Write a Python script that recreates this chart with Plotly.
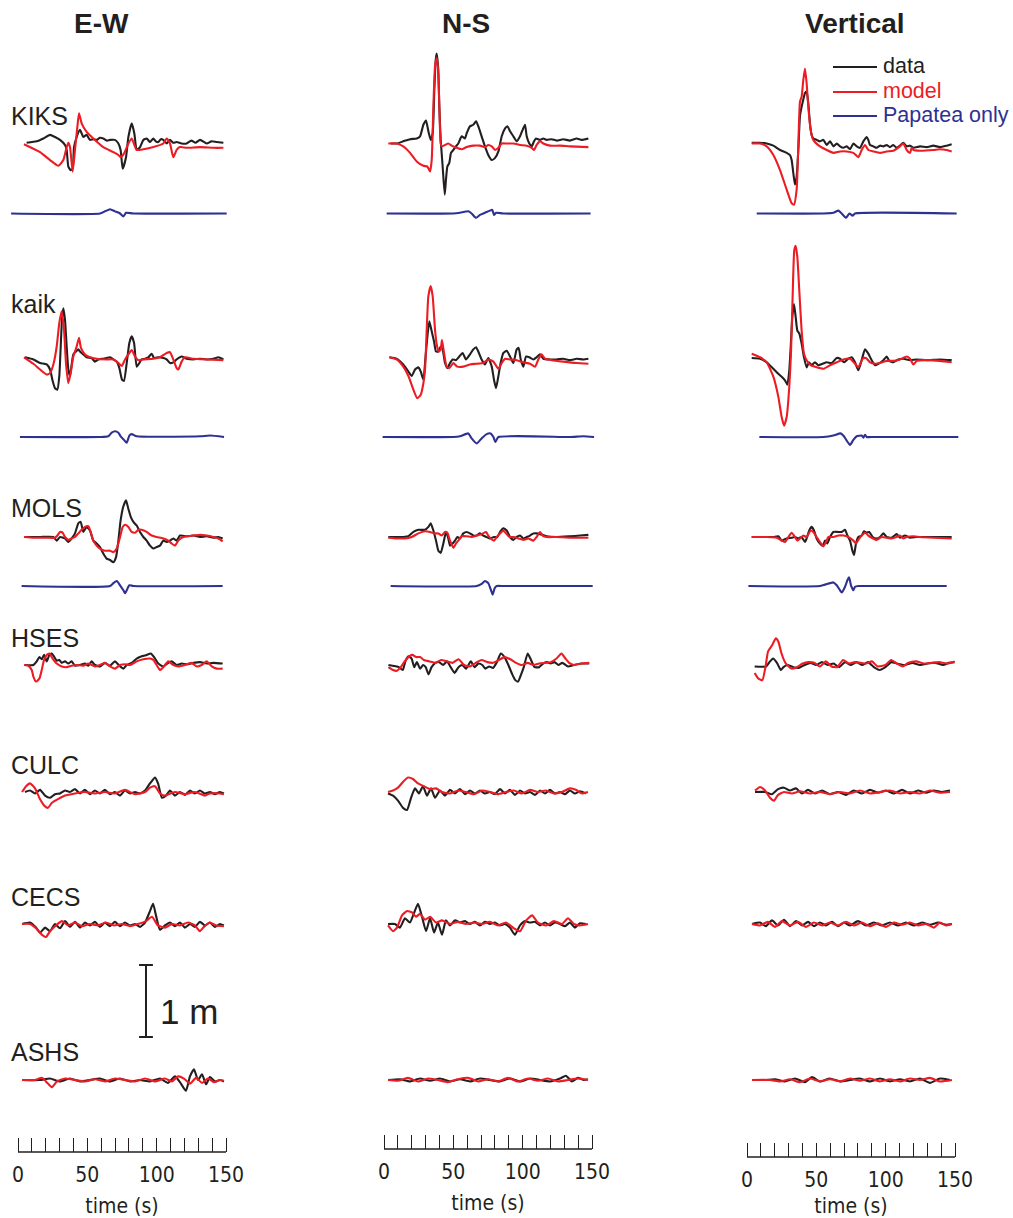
import plotly.graph_objects as go

# ---------------------------------------------------------------------------
# Displacement waveforms, (time [s], displacement [m]) pairs.
# DATA = recorded, MODEL = synthetic, PAPATEA = Papatea-fault-only synthetic
# ---------------------------------------------------------------------------
KIKS_EW_DATA = [(6.2, 0.01), (13.5, 0.03), (18.3, 0.07), (23.1, 0.12), (26.7, 0.09), (30.3, 0.05), (33.9, -0.02), (35.1, -0.09), (36.3, -0.32), (38.0, -0.37), (39.4, -0.35), (40.4, -0.05), (42.3, 0.09), (44.7, 0.19), (47.1, 0.09), (49.5, 0.12), (51.9, 0.05), (54.3, 0.06), (56.7, 0.05), (59.1, 0.08), (61.5, 0.07), (64.0, 0.04), (66.4, 0.05), (69.9, 0.05), (72.4, 0.0), (74.0, -0.09), (75.5, -0.35), (77.9, -0.19), (79.6, 0.09), (82.0, 0.28), (83.9, 0.14), (85.6, -0.09), (88.0, -0.05), (90.4, 0.05), (92.8, 0.07), (95.2, 0.02), (97.6, 0.07), (99.4, 0.03), (101.2, 0.02), (103.0, 0.06), (104.8, 0.05), (107.2, 0.0), (109.6, 0.05), (112.0, 0.01), (114.4, 0.02), (118.0, 0.0), (121.6, 0.0), (125.0, 0.04), (128.0, 0.01), (131.3, 0.05), (136.1, 0.0), (139.5, 0.03), (143.3, 0.02), (148.1, 0.01)]
KIKS_EW_MODEL = [(4.3, -0.01), (15.9, -0.12), (23.1, -0.23), (29.1, -0.31), (32.7, -0.23), (35.1, -0.05), (36.3, 0.01), (37.5, -0.05), (39.4, -0.39), (41.1, -0.09), (42.8, 0.23), (44.0, 0.42), (45.9, 0.28), (49.5, 0.16), (54.3, 0.07), (61.5, -0.05), (68.8, -0.12), (72.4, -0.16), (74.0, -0.19), (76.4, -0.14), (79.6, 0.0), (82.0, 0.07), (85.6, -0.09), (90.4, -0.08), (97.6, -0.05), (104.8, 0.0), (107.2, 0.07), (109.6, 0.0), (112.0, -0.19), (114.4, -0.09), (116.8, -0.05), (121.6, -0.06), (131.3, -0.05), (140.9, -0.06), (148.1, -0.06)]
KIKS_EW_PAPATEA = [(-5.0, 0.0), (59.1, 0.0), (62.7, 0.03), (66.4, 0.06), (69.9, 0.03), (73.6, 0.0), (76.0, -0.04), (77.9, 0.01), (83.2, 0.0), (150.5, 0.0)]

KIKS_NS_DATA = [(5.0, 0.0), (9.1, 0.0), (13.9, 0.03), (18.8, 0.06), (23.6, 0.07), (26.0, 0.10), (28.4, 0.26), (30.3, 0.32), (32.0, 0.17), (33.7, 0.05), (35.1, 0.14), (36.3, 0.75), (37.3, 1.16), (38.0, 1.25), (39.0, 1.07), (39.9, 0.51), (40.9, 0.05), (42.3, -0.32), (43.8, -0.71), (44.7, -0.50), (45.7, -0.32), (47.1, -0.27), (48.3, -0.13), (50.0, -0.09), (51.9, -0.04), (53.6, 0.0), (56.0, 0.10), (58.4, 0.07), (59.6, 0.14), (62.0, 0.24), (64.4, 0.26), (66.4, 0.31), (68.0, 0.24), (70.4, 0.10), (72.8, -0.04), (75.2, -0.16), (77.7, -0.23), (80.1, -0.20), (82.5, -0.11), (84.9, 0.10), (87.3, 0.21), (89.0, 0.24), (90.9, 0.17), (93.3, 0.10), (95.7, 0.03), (98.1, 0.10), (100.0, 0.19), (101.7, 0.26), (102.9, 0.10), (104.8, 0.0), (106.5, -0.04), (108.2, 0.03), (109.6, 0.07), (112.5, 0.05), (114.9, 0.07), (117.3, 0.05), (120.9, 0.06), (124.5, 0.04), (129.3, 0.06), (134.1, 0.04), (138.9, 0.07), (142.6, 0.05), (147.4, 0.07)]
KIKS_NS_MODEL = [(3.1, 0.0), (9.1, 0.0), (13.9, -0.04), (18.8, -0.13), (23.6, -0.25), (28.4, -0.31), (31.3, -0.32), (33.2, -0.39), (34.4, -0.23), (35.6, 0.51), (36.8, 1.07), (38.0, 1.19), (39.2, 0.98), (39.9, 0.51), (40.9, 0.0), (41.8, -0.04), (44.0, -0.02), (46.4, 0.0), (48.8, -0.03), (52.4, -0.06), (56.0, -0.08), (59.6, -0.05), (64.4, -0.03), (69.2, -0.03), (72.8, -0.05), (75.2, -0.02), (77.7, -0.04), (80.1, -0.09), (82.5, -0.06), (84.9, 0.0), (88.5, 0.0), (93.3, 0.0), (98.1, -0.02), (102.9, -0.03), (106.5, -0.06), (108.2, -0.09), (110.1, -0.02), (112.5, 0.03), (114.9, 0.0), (119.7, -0.03), (126.9, -0.03), (134.1, -0.04), (147.4, -0.05)]
KIKS_NS_PAPATEA = [(1.9, 0.0), (50.0, 0.0), (54.8, 0.01), (60.8, 0.03), (63.2, 0.0), (66.4, -0.06), (69.2, -0.02), (72.8, 0.01), (76.4, 0.04), (78.1, 0.05), (79.3, -0.02), (80.8, 0.01), (86.1, 0.0), (149.0, 0.0)]

KIKS_UD_DATA = [(3.4, 0.01), (9.4, 0.01), (14.2, 0.0), (19.0, -0.03), (23.8, -0.09), (28.6, -0.13), (31.0, -0.16), (32.2, -0.23), (33.4, -0.41), (34.6, -0.57), (35.8, -0.46), (37.0, -0.09), (38.2, 0.38), (39.4, 0.51), (40.6, 0.61), (41.8, 0.70), (43.0, 0.72), (44.2, 0.56), (45.4, 0.28), (46.6, 0.12), (47.8, 0.07), (50.2, 0.05), (52.6, 0.03), (55.1, 0.05), (57.5, -0.02), (59.9, 0.03), (62.3, -0.04), (64.7, 0.0), (67.1, -0.04), (69.5, -0.06), (71.9, -0.04), (74.3, -0.08), (76.7, 0.0), (79.1, -0.04), (81.5, -0.06), (83.9, 0.03), (86.3, 0.09), (87.5, 0.05), (88.7, -0.02), (91.1, -0.04), (93.5, -0.06), (95.9, -0.03), (98.3, -0.04), (100.7, -0.02), (103.1, -0.05), (105.5, -0.02), (107.9, -0.06), (110.3, -0.03), (112.7, 0.01), (115.2, -0.04), (117.6, -0.03), (120.0, -0.06), (124.8, -0.04), (129.6, -0.05), (134.4, -0.03), (139.2, -0.05), (144.0, -0.03), (147.6, -0.01)]
KIKS_UD_MODEL = [(3.4, 0.0), (9.4, 0.0), (14.2, -0.04), (19.0, -0.16), (23.8, -0.37), (28.6, -0.64), (32.2, -0.83), (33.9, -0.85), (35.8, -0.64), (37.0, -0.04), (38.2, 0.58), (39.4, 0.65), (40.6, 0.88), (41.8, 1.04), (43.0, 0.84), (44.2, 0.51), (45.9, 0.19), (47.8, 0.05), (52.6, -0.04), (57.5, -0.09), (62.3, -0.13), (67.1, -0.11), (71.9, -0.11), (76.7, -0.13), (80.3, -0.19), (82.7, -0.09), (85.1, -0.02), (87.5, -0.09), (91.1, -0.11), (95.9, -0.13), (100.7, -0.11), (105.5, -0.10), (110.3, -0.04), (112.7, 0.0), (115.2, -0.09), (117.6, -0.13), (118.8, -0.06), (120.0, -0.09), (124.8, -0.10), (134.4, -0.09), (139.2, -0.08), (144.0, -0.09), (147.6, -0.11)]
KIKS_UD_PAPATEA = [(7.0, 0.0), (55.1, 0.0), (62.3, 0.01), (65.9, 0.04), (68.3, 0.0), (71.4, -0.06), (73.8, 0.0), (76.2, -0.03), (77.9, 0.0), (151.2, 0.0)]

KAIK_EW_DATA = [(5.0, 0.01), (11.1, -0.02), (15.9, -0.07), (20.7, -0.09), (23.1, -0.16), (25.0, -0.32), (26.7, -0.42), (28.4, -0.44), (29.8, -0.25), (30.8, 0.16), (31.7, 0.53), (32.7, 0.69), (33.9, 0.53), (35.1, 0.16), (36.3, -0.16), (37.5, -0.25), (38.7, -0.09), (39.9, 0.05), (41.8, 0.09), (43.5, 0.12), (44.7, 0.09), (47.1, 0.05), (49.5, 0.01), (53.1, 0.0), (55.5, -0.05), (57.9, -0.02), (61.5, -0.01), (63.9, 0.0), (66.4, 0.01), (68.8, -0.02), (71.2, -0.05), (73.1, -0.14), (75.0, -0.30), (76.4, -0.32), (78.4, -0.07), (80.3, 0.21), (82.0, 0.30), (83.7, 0.21), (85.6, -0.12), (87.5, -0.07), (89.2, -0.02), (91.6, -0.01), (94.0, 0.01), (96.4, 0.06), (98.1, 0.0), (101.2, 0.01), (104.8, 0.0), (107.2, -0.02), (109.6, -0.07), (112.0, -0.06), (114.4, -0.02), (118.0, 0.02), (121.6, -0.01), (126.5, -0.02), (131.3, -0.01), (136.1, -0.02), (140.9, -0.01), (144.5, 0.01), (148.1, -0.02)]
KAIK_EW_MODEL = [(4.3, 0.01), (11.1, -0.08), (15.9, -0.16), (20.7, -0.23), (23.1, -0.21), (25.5, -0.09), (27.9, 0.16), (29.8, 0.49), (31.5, 0.65), (33.2, 0.39), (34.6, -0.07), (36.3, -0.35), (38.0, -0.21), (39.9, 0.02), (42.3, 0.16), (44.0, 0.28), (45.4, 0.14), (48.3, 0.05), (51.9, 0.01), (56.7, -0.01), (63.9, -0.02), (68.8, -0.02), (72.4, -0.07), (74.8, -0.11), (77.2, -0.02), (79.6, 0.05), (82.0, 0.11), (84.4, 0.02), (86.8, -0.03), (90.4, -0.02), (97.6, -0.01), (102.4, 0.01), (107.2, 0.07), (109.6, 0.08), (112.0, -0.02), (114.4, -0.14), (115.6, -0.16), (118.0, -0.05), (120.4, 0.01), (126.5, -0.01), (136.1, -0.02), (148.1, -0.03)]
KAIK_EW_PAPATEA = [(1.4, 0.0), (59.1, 0.0), (65.1, 0.01), (67.6, 0.06), (69.9, 0.08), (72.4, 0.06), (74.0, 0.01), (76.4, -0.04), (78.4, -0.08), (80.3, 0.02), (82.0, 0.04), (85.6, 0.01), (131.3, 0.01), (138.5, 0.02), (148.6, 0.0)]

KAIK_NS_DATA = [(3.9, 0.01), (9.1, -0.01), (13.9, -0.09), (17.6, -0.19), (20.0, -0.25), (22.4, -0.16), (24.8, -0.13), (26.5, -0.19), (28.4, -0.30), (29.8, -0.02), (31.3, 0.30), (32.7, 0.51), (34.4, 0.37), (36.1, 0.23), (37.5, 0.09), (39.2, 0.09), (40.9, 0.16), (42.3, 0.12), (44.0, -0.07), (45.7, -0.14), (47.6, -0.07), (49.5, -0.02), (51.9, -0.03), (54.3, 0.02), (56.7, 0.07), (59.1, -0.02), (62.0, 0.05), (64.4, 0.12), (66.4, 0.15), (68.0, 0.09), (70.4, -0.02), (72.8, -0.09), (75.2, 0.0), (77.7, -0.12), (79.3, -0.30), (80.8, -0.42), (82.5, -0.25), (84.1, -0.07), (86.1, 0.07), (88.5, 0.10), (90.9, 0.02), (93.3, -0.07), (95.7, 0.12), (97.1, 0.14), (98.6, -0.02), (100.5, -0.12), (102.4, 0.02), (104.8, 0.01), (107.7, -0.02), (110.1, 0.01), (112.5, 0.05), (114.9, -0.01), (119.7, -0.02), (124.5, -0.02), (129.3, -0.01), (134.1, -0.03), (138.9, -0.01), (143.8, -0.02), (147.4, -0.01)]
KAIK_NS_MODEL = [(3.9, 0.01), (9.1, -0.02), (13.9, -0.12), (17.6, -0.25), (21.2, -0.44), (24.0, -0.56), (26.5, -0.51), (28.4, -0.35), (29.6, -0.16), (30.8, 0.39), (32.0, 0.86), (33.7, 1.00), (35.1, 0.86), (36.8, 0.39), (38.0, 0.19), (39.4, 0.09), (40.9, 0.12), (41.8, 0.25), (43.3, 0.07), (45.2, -0.12), (47.1, -0.14), (50.0, -0.07), (52.9, -0.12), (57.2, -0.12), (62.0, -0.09), (66.8, -0.08), (71.6, -0.07), (75.2, -0.02), (78.9, -0.05), (82.5, -0.15), (84.9, -0.07), (87.3, -0.01), (90.9, -0.02), (95.7, -0.03), (100.5, -0.06), (105.3, -0.08), (108.9, -0.12), (111.3, -0.02), (113.7, 0.05), (116.1, -0.01), (120.9, -0.03), (129.3, -0.05), (138.9, -0.07), (147.4, -0.08)]
KAIK_NS_PAPATEA = [(-1.0, 0.0), (50.0, 0.0), (54.8, 0.01), (60.8, 0.05), (63.2, -0.02), (66.8, -0.09), (70.4, -0.02), (74.0, 0.04), (76.9, 0.05), (78.9, 0.0), (80.3, -0.07), (82.5, 0.0), (134.1, 0.0), (143.8, 0.01), (151.5, 0.0)]

KAIK_UD_DATA = [(3.4, 0.0), (9.4, -0.01), (14.2, -0.06), (19.0, -0.15), (22.6, -0.22), (25.0, -0.26), (27.4, -0.31), (29.1, -0.37), (30.5, -0.17), (31.5, 0.15), (32.7, 0.57), (33.9, 0.75), (35.1, 0.57), (36.3, 0.38), (37.7, 0.34), (39.4, 0.20), (41.1, 0.01), (43.0, -0.13), (44.7, -0.06), (46.6, -0.10), (49.0, -0.06), (51.4, -0.10), (54.6, -0.08), (57.5, -0.06), (61.1, -0.07), (64.7, 0.0), (67.1, -0.01), (70.0, -0.06), (73.1, -0.01), (75.5, 0.01), (77.9, -0.06), (80.3, -0.17), (82.7, -0.03), (85.1, 0.12), (87.5, 0.06), (89.9, -0.03), (92.3, -0.10), (94.7, -0.08), (98.3, -0.03), (100.7, 0.02), (102.6, -0.04), (105.5, -0.06), (109.1, -0.02), (112.7, -0.01), (117.6, -0.03), (122.4, -0.02), (129.6, -0.03), (139.2, -0.02), (147.6, -0.03)]
KAIK_UD_MODEL = [(3.4, 0.06), (9.4, 0.01), (14.2, -0.06), (19.0, -0.26), (22.6, -0.54), (25.0, -0.82), (26.7, -0.94), (28.6, -0.82), (30.5, -0.40), (31.7, 0.06), (32.9, 0.85), (34.1, 1.50), (35.1, 1.56), (36.3, 1.40), (37.7, 0.94), (39.4, 0.38), (41.1, 0.06), (43.0, -0.03), (45.9, -0.10), (50.2, -0.13), (55.1, -0.15), (59.9, -0.10), (64.7, -0.06), (69.5, -0.02), (74.3, -0.01), (77.9, -0.08), (80.3, -0.13), (83.4, -0.01), (85.8, 0.0), (88.7, -0.06), (92.3, -0.08), (95.9, -0.07), (100.7, -0.04), (105.5, -0.04), (110.3, -0.02), (115.2, 0.02), (117.6, -0.01), (120.0, -0.09), (122.4, -0.04), (129.6, -0.03), (139.2, -0.04), (147.6, -0.06)]
KAIK_UD_PAPATEA = [(8.9, 0.0), (55.1, 0.0), (62.3, 0.02), (67.5, 0.05), (69.9, 0.01), (71.9, -0.05), (74.3, -0.11), (76.7, -0.04), (79.1, 0.01), (82.7, 0.02), (83.9, -0.01), (85.1, 0.03), (86.3, 0.0), (91.1, 0.0), (152.4, 0.0)]

MOLS_EW_DATA = [(5.0, 0.0), (15.9, 0.0), (25.5, 0.0), (27.9, -0.05), (30.3, 0.0), (33.9, -0.02), (36.3, -0.07), (38.7, -0.02), (41.1, 0.05), (43.5, 0.19), (45.2, 0.21), (47.1, 0.07), (49.5, 0.14), (51.9, 0.09), (54.3, -0.05), (56.7, -0.09), (59.1, -0.14), (61.5, -0.23), (63.9, -0.30), (66.4, -0.32), (68.8, -0.35), (70.7, -0.28), (72.4, -0.05), (74.0, 0.23), (75.9, 0.42), (77.9, 0.51), (79.6, 0.39), (81.3, 0.28), (83.2, 0.21), (85.6, 0.16), (88.0, 0.07), (90.4, 0.0), (92.8, -0.05), (95.2, -0.12), (97.6, -0.16), (100.0, -0.14), (102.4, -0.12), (104.8, -0.05), (107.2, -0.07), (109.6, -0.05), (112.0, -0.02), (114.4, -0.05), (116.8, 0.02), (121.6, 0.01), (126.5, 0.02), (131.3, 0.0), (136.1, 0.01), (140.9, -0.01), (144.5, 0.0), (147.6, -0.02)]
MOLS_EW_MODEL = [(4.3, 0.0), (11.1, -0.01), (20.7, -0.01), (26.7, -0.01), (28.4, 0.02), (30.3, 0.07), (32.2, 0.06), (33.9, 0.0), (36.3, -0.04), (38.7, -0.02), (41.1, 0.0), (43.5, 0.05), (45.9, 0.10), (48.3, 0.14), (50.7, 0.15), (52.4, 0.07), (54.3, -0.05), (56.7, -0.12), (59.1, -0.16), (62.7, -0.19), (66.4, -0.19), (68.8, -0.21), (71.2, -0.16), (73.6, 0.0), (75.5, 0.14), (77.2, 0.17), (79.6, 0.14), (82.0, 0.07), (84.4, 0.06), (86.8, 0.10), (89.2, 0.10), (92.8, 0.07), (96.4, 0.02), (100.0, 0.0), (104.8, -0.02), (108.4, -0.05), (110.8, -0.09), (113.2, -0.12), (115.6, -0.05), (118.0, -0.01), (121.6, 0.01), (126.5, 0.02), (131.3, 0.03), (136.1, 0.02), (140.9, 0.0), (144.5, -0.02), (147.6, -0.06)]
MOLS_EW_PAPATEA = [(2.6, 0.0), (66.4, 0.0), (68.8, 0.04), (71.2, 0.07), (73.6, 0.01), (76.0, -0.06), (77.2, -0.10), (78.4, -0.06), (80.3, 0.01), (83.2, 0.0), (147.6, 0.0)]

MOLS_NS_DATA = [(3.1, 0.0), (13.9, 0.0), (17.6, 0.01), (21.2, 0.07), (24.8, 0.10), (29.6, 0.10), (32.0, 0.14), (33.7, 0.19), (35.6, 0.09), (37.5, -0.05), (39.2, -0.19), (40.9, -0.22), (42.8, -0.09), (44.7, 0.07), (46.4, -0.02), (47.6, -0.12), (49.5, -0.09), (51.2, -0.05), (52.9, 0.0), (54.8, -0.02), (57.2, 0.05), (59.6, 0.07), (62.0, 0.05), (64.4, 0.02), (66.8, 0.02), (69.2, 0.05), (71.6, 0.02), (74.0, 0.0), (76.4, -0.02), (79.3, 0.0), (81.7, 0.0), (83.7, 0.07), (86.1, 0.12), (88.5, 0.09), (90.9, 0.0), (93.3, -0.04), (95.7, 0.0), (98.1, 0.02), (100.5, -0.02), (102.9, 0.0), (105.3, 0.02), (107.7, 0.05), (110.1, 0.05), (112.5, 0.04), (117.3, 0.01), (124.5, 0.0), (134.1, 0.01), (141.4, 0.02), (147.4, 0.03)]
MOLS_NS_MODEL = [(3.1, -0.01), (9.1, -0.02), (15.1, -0.02), (20.0, 0.0), (24.8, 0.05), (29.6, 0.08), (33.2, 0.07), (36.1, 0.05), (39.2, 0.05), (41.6, 0.02), (44.0, 0.07), (45.7, 0.06), (47.6, -0.05), (50.0, -0.15), (51.9, -0.09), (53.6, -0.05), (56.0, 0.01), (59.6, 0.01), (63.2, 0.0), (66.8, 0.02), (70.4, 0.04), (73.6, 0.07), (75.2, 0.02), (76.9, -0.02), (79.3, -0.05), (81.3, 0.0), (83.7, 0.05), (86.1, 0.09), (88.0, 0.05), (90.4, 0.0), (93.3, 0.0), (96.9, -0.02), (100.5, -0.04), (104.1, -0.02), (107.7, -0.05), (110.1, 0.0), (112.5, 0.07), (114.4, 0.02), (117.3, 0.0), (124.5, 0.0), (134.1, -0.01), (147.4, -0.01)]
MOLS_NS_PAPATEA = [(4.8, 0.0), (66.8, 0.0), (70.4, 0.03), (72.8, 0.07), (75.2, 0.04), (77.2, -0.06), (78.4, -0.12), (79.8, -0.03), (81.3, 0.0), (86.1, 0.0), (150.5, 0.0)]

MOLS_UD_DATA = [(3.4, 0.0), (14.2, 0.0), (19.0, 0.0), (22.6, 0.01), (25.0, -0.05), (28.6, -0.02), (32.2, -0.01), (34.6, 0.0), (37.0, -0.02), (39.4, 0.0), (41.8, -0.07), (43.0, -0.02), (44.9, 0.09), (46.6, 0.14), (48.3, 0.09), (50.2, -0.02), (52.6, -0.09), (54.6, -0.12), (56.3, -0.05), (57.9, -0.09), (59.9, 0.0), (62.3, 0.07), (65.9, 0.07), (68.3, 0.07), (70.7, 0.10), (72.4, 0.02), (74.3, -0.05), (76.0, -0.19), (77.2, -0.25), (78.6, -0.09), (80.3, 0.0), (82.7, 0.02), (84.4, 0.08), (86.3, 0.06), (88.2, 0.07), (90.6, 0.0), (93.5, -0.02), (95.9, 0.0), (98.3, 0.05), (100.7, 0.0), (104.3, -0.01), (107.9, 0.04), (110.3, -0.01), (113.9, 0.02), (117.6, -0.01), (122.4, 0.0), (129.6, 0.0), (139.2, 0.0), (147.6, 0.0)]
MOLS_UD_MODEL = [(3.4, 0.0), (14.2, 0.0), (21.4, -0.01), (25.0, -0.05), (27.4, -0.07), (29.8, 0.0), (32.2, 0.06), (33.9, 0.02), (36.3, -0.05), (38.2, -0.02), (40.6, 0.02), (43.0, 0.0), (45.9, 0.09), (47.8, 0.07), (50.2, 0.0), (52.6, -0.07), (55.1, -0.13), (57.0, -0.07), (58.7, 0.0), (62.3, 0.0), (65.9, 0.02), (69.5, 0.02), (73.1, 0.0), (76.7, -0.05), (78.6, -0.09), (80.3, -0.04), (82.7, 0.02), (85.1, 0.06), (87.5, 0.02), (89.9, -0.01), (93.5, -0.04), (97.1, 0.0), (100.7, -0.01), (104.3, -0.02), (107.9, 0.0), (110.3, 0.02), (112.7, -0.02), (115.2, 0.0), (120.0, 0.01), (124.8, 0.0), (134.4, -0.01), (147.6, -0.02)]
MOLS_UD_PAPATEA = [(1.0, 0.0), (52.6, 0.0), (59.9, 0.04), (62.3, 0.05), (64.7, 0.01), (67.1, -0.06), (68.3, -0.09), (70.7, -0.01), (72.4, 0.08), (73.6, 0.12), (75.0, 0.01), (76.7, -0.06), (77.9, -0.01), (80.3, 0.0), (91.1, 0.0), (144.0, 0.0)]

HSES_EW_DATA = [(5.0, 0.0), (11.1, 0.0), (13.5, 0.05), (15.4, 0.11), (17.1, 0.08), (18.8, 0.14), (20.7, 0.05), (22.6, 0.14), (24.3, 0.16), (25.9, 0.12), (27.9, 0.06), (29.8, 0.07), (31.5, 0.03), (33.9, 0.05), (36.3, 0.02), (38.7, 0.05), (41.1, -0.01), (44.7, 0.0), (48.3, 0.02), (50.7, -0.01), (53.1, 0.05), (55.5, 0.0), (59.1, -0.02), (62.7, 0.03), (66.4, -0.01), (69.9, 0.05), (73.6, -0.02), (76.0, -0.05), (78.4, 0.0), (82.0, 0.03), (85.6, 0.09), (89.2, 0.12), (92.8, 0.14), (95.7, 0.16), (98.1, 0.11), (101.2, 0.02), (104.8, -0.02), (108.4, 0.03), (110.8, 0.05), (114.4, 0.0), (118.0, 0.02), (121.6, 0.01), (126.5, 0.03), (131.3, 0.04), (136.1, 0.02), (140.9, 0.03), (147.6, 0.02)]
HSES_EW_MODEL = [(4.3, 0.0), (7.5, -0.01), (9.9, -0.07), (11.1, -0.16), (13.0, -0.23), (15.4, -0.19), (17.1, -0.07), (18.8, 0.07), (20.7, 0.14), (22.6, 0.16), (25.0, 0.09), (27.9, 0.02), (31.5, -0.02), (35.1, -0.03), (38.7, -0.01), (42.3, 0.0), (47.1, -0.01), (50.7, 0.02), (55.5, -0.02), (59.1, 0.0), (62.7, 0.03), (66.4, -0.02), (69.9, -0.05), (73.6, 0.0), (77.2, 0.01), (80.8, 0.0), (85.6, 0.05), (90.4, 0.08), (95.2, 0.09), (97.6, 0.07), (100.0, 0.0), (102.4, -0.07), (104.8, -0.03), (108.4, 0.05), (112.0, 0.0), (115.6, -0.02), (120.4, 0.0), (125.2, 0.03), (128.9, -0.02), (132.5, 0.0), (136.1, 0.05), (139.7, -0.02), (143.3, -0.05), (147.6, -0.05)]

HSES_NS_DATA = [(3.2, 0.0), (10.7, -0.03), (13.5, -0.07), (15.4, 0.05), (17.6, 0.12), (19.9, 0.09), (21.8, -0.03), (23.7, 0.04), (26.0, -0.05), (28.2, 0.0), (30.1, -0.03), (32.1, -0.13), (34.3, -0.03), (37.1, 0.03), (39.8, 0.04), (42.6, 0.0), (45.4, 0.05), (48.1, -0.03), (50.9, -0.11), (53.7, -0.03), (56.5, 0.0), (59.2, -0.05), (62.6, 0.05), (65.3, -0.03), (68.1, 0.02), (70.9, 0.0), (73.1, -0.05), (75.9, -0.02), (78.6, -0.04), (81.4, 0.04), (84.2, 0.16), (86.9, 0.11), (89.7, 0.0), (92.5, -0.13), (94.7, -0.21), (96.7, -0.23), (98.9, -0.13), (100.8, -0.03), (103.6, 0.16), (105.8, 0.08), (108.6, -0.03), (111.9, -0.03), (114.7, 0.02), (117.5, 0.04), (120.2, 0.02), (123.0, 0.04), (125.8, 0.0), (128.6, 0.03), (132.7, -0.02), (136.9, 0.0), (142.4, 0.02), (148.0, 0.02)]
HSES_NS_MODEL = [(3.2, -0.03), (6.5, -0.07), (9.3, -0.08), (12.1, -0.03), (14.9, 0.05), (17.6, 0.11), (20.4, 0.14), (23.2, 0.11), (26.0, 0.11), (28.7, 0.07), (32.9, 0.05), (37.1, 0.03), (41.2, 0.07), (45.4, 0.05), (49.5, 0.03), (53.7, 0.08), (57.8, 0.0), (62.0, -0.02), (66.2, 0.03), (70.3, 0.07), (74.5, 0.04), (78.6, 0.03), (82.8, 0.07), (87.0, 0.11), (91.1, 0.08), (95.3, 0.03), (99.4, 0.0), (103.6, 0.03), (107.8, 0.0), (111.9, 0.02), (116.1, 0.03), (120.2, 0.04), (124.4, 0.09), (128.0, 0.16), (130.8, 0.09), (133.5, 0.03), (136.9, 0.0), (142.4, 0.02), (148.0, 0.03)]

HSES_UD_DATA = [(5.5, -0.02), (13.8, -0.02), (16.6, 0.05), (18.8, 0.09), (21.6, 0.03), (24.4, -0.07), (26.3, -0.03), (29.1, 0.0), (33.3, -0.03), (37.4, -0.04), (41.6, 0.0), (45.7, 0.03), (49.9, 0.0), (54.0, 0.04), (58.2, 0.0), (62.4, 0.02), (66.5, -0.03), (70.7, 0.04), (74.8, 0.0), (79.0, 0.04), (83.1, 0.0), (87.3, 0.04), (91.5, -0.03), (95.6, -0.07), (99.8, -0.03), (104.0, 0.04), (108.1, 0.02), (113.6, 0.0), (119.2, 0.03), (124.7, 0.0), (130.3, 0.02), (135.8, 0.03), (141.4, 0.0), (145.6, 0.03), (149.7, 0.04)]
HSES_UD_MODEL = [(5.5, -0.11), (8.3, -0.19), (11.1, -0.21), (13.3, -0.03), (15.2, 0.19), (18.0, 0.27), (20.8, 0.37), (22.7, 0.32), (24.9, 0.16), (27.7, 0.03), (31.9, -0.05), (36.0, -0.03), (40.2, 0.02), (44.3, 0.04), (48.5, 0.03), (52.6, -0.02), (56.8, 0.05), (61.0, -0.02), (65.1, -0.03), (69.3, 0.07), (73.4, 0.02), (77.6, 0.04), (81.8, 0.03), (85.9, 0.02), (90.1, 0.05), (94.2, -0.02), (99.8, 0.0), (104.0, 0.07), (108.1, 0.02), (112.3, -0.02), (116.4, 0.03), (122.0, 0.05), (127.5, 0.02), (133.1, 0.03), (138.6, 0.04), (144.2, 0.02), (149.7, 0.05)]

CULC_EW_DATA = [(5.0, 0.0), (8.7, 0.02), (12.3, -0.02), (15.9, 0.03), (19.5, -0.05), (23.1, -0.08), (26.7, -0.03), (30.3, -0.02), (33.9, 0.02), (37.5, 0.0), (41.1, 0.04), (44.7, -0.02), (48.3, 0.03), (51.9, -0.03), (55.5, 0.02), (59.1, -0.02), (62.7, 0.03), (66.3, -0.03), (69.9, 0.0), (73.5, -0.05), (77.1, 0.02), (80.8, -0.02), (84.4, 0.0), (88.0, -0.02), (91.6, 0.02), (95.2, 0.12), (98.8, 0.2), (101.0, 0.12), (103.8, -0.08), (106.7, -0.05), (109.6, 0.02), (113.2, -0.05), (116.8, 0.0), (120.4, -0.04), (124.0, 0.02), (127.6, -0.02), (131.2, 0.02), (134.8, -0.02), (138.4, 0.0), (142.0, -0.03), (145.6, 0.0), (148.5, -0.02)]
CULC_EW_MODEL = [(2.9, 0.0), (5.8, 0.08), (8.7, 0.12), (12.3, 0.05), (15.9, -0.1), (19.5, -0.2), (21.6, -0.22), (24.5, -0.15), (28.8, -0.1), (33.9, -0.05), (41.1, -0.02), (48.3, 0.0), (55.5, -0.02), (62.7, 0.0), (69.9, -0.02), (77.1, 0.03), (84.4, -0.03), (91.6, 0.0), (95.2, 0.06), (98.8, 0.08), (102.4, -0.02), (106.0, -0.05), (113.2, 0.0), (120.4, -0.03), (127.6, 0.0), (134.8, -0.05), (138.4, -0.02), (145.6, -0.02), (148.5, -0.03)]
CULC_NS_DATA = [(2.9, -0.02), (6.5, -0.05), (10.1, -0.12), (13.7, -0.22), (16.6, -0.25), (19.5, -0.08), (22.4, 0.05), (25.2, -0.02), (28.1, 0.08), (31.0, -0.05), (33.9, 0.05), (36.8, -0.08), (40.4, 0.02), (44.0, -0.05), (47.6, 0.03), (51.2, -0.02), (54.8, 0.04), (58.4, -0.03), (62.0, 0.02), (65.6, -0.02), (69.2, 0.02), (72.8, -0.02), (76.4, 0.0), (80.0, -0.03), (83.6, 0.04), (87.2, -0.02), (90.8, 0.03), (94.4, -0.04), (98.1, 0.02), (101.7, -0.02), (105.3, 0.0), (108.9, -0.04), (112.5, 0.02), (116.1, -0.02), (119.7, 0.03), (123.3, -0.02), (126.9, 0.0), (130.5, -0.03), (134.1, 0.02), (137.7, -0.02), (141.3, 0.01), (145.6, -0.02)]
CULC_NS_MODEL = [(2.9, 0.0), (6.5, 0.02), (10.1, 0.06), (13.7, 0.14), (17.3, 0.2), (20.9, 0.18), (24.5, 0.12), (28.8, 0.08), (33.2, 0.04), (37.5, 0.05), (41.8, 0.0), (47.6, -0.02), (53.4, 0.02), (59.1, 0.0), (64.9, -0.03), (70.7, 0.02), (76.4, 0.0), (82.2, -0.03), (88.0, 0.0), (93.7, 0.02), (99.5, -0.02), (105.3, 0.03), (111.0, 0.0), (116.8, 0.02), (122.6, -0.02), (128.3, 0.0), (134.1, 0.05), (138.4, 0.03), (142.8, -0.02), (147.1, 0.0)]
CULC_UD_DATA = [(5.8, 0.0), (13.0, 0.0), (18.0, -0.03), (22.4, 0.04), (26.7, 0.06), (31.0, 0.02), (35.3, 0.05), (39.7, -0.02), (44.0, 0.03), (49.0, -0.02), (54.1, 0.02), (59.8, -0.03), (65.6, 0.0), (71.4, -0.04), (77.1, 0.02), (82.9, -0.02), (88.7, 0.03), (94.4, -0.01), (100.2, 0.02), (106.0, -0.02), (111.8, 0.03), (117.5, -0.02), (123.3, 0.02), (129.1, -0.01), (134.8, 0.02), (140.6, 0.0), (146.4, 0.02)]
CULC_UD_MODEL = [(5.8, 0.02), (9.4, 0.07), (13.0, 0.02), (16.6, -0.08), (19.5, -0.12), (22.4, -0.04), (26.7, 0.0), (32.4, -0.02), (38.2, 0.01), (45.4, -0.02), (52.6, 0.0), (59.8, -0.03), (67.1, 0.0), (74.3, -0.02), (81.5, 0.02), (88.7, -0.02), (95.9, 0.0), (103.1, 0.02), (110.3, -0.02), (117.5, 0.0), (124.7, -0.02), (131.9, 0.02), (139.1, -0.01), (146.4, 0.0)]

CECS_EW_DATA = [(2.9, 0.0), (8.7, 0.02), (13.0, -0.05), (15.9, -0.12), (19.5, -0.05), (23.1, -0.1), (26.7, 0.0), (30.3, -0.06), (33.9, 0.04), (37.5, -0.04), (41.1, 0.03), (44.7, -0.05), (48.3, 0.02), (51.9, -0.02), (55.5, 0.03), (59.1, -0.04), (62.7, 0.02), (66.3, -0.03), (69.9, 0.03), (73.5, -0.03), (77.1, 0.02), (80.8, -0.02), (84.4, 0.0), (88.0, -0.04), (91.6, 0.02), (95.2, 0.18), (97.4, 0.28), (99.5, 0.12), (102.4, -0.08), (106.0, -0.02), (109.6, 0.02), (113.2, -0.03), (116.8, 0.02), (120.4, -0.05), (124.0, 0.0), (127.6, -0.04), (131.2, 0.03), (134.8, -0.02), (138.4, 0.02), (142.0, -0.04), (145.6, 0.0), (148.5, -0.02)]
CECS_EW_MODEL = [(2.9, 0.0), (8.7, 0.0), (13.0, -0.06), (17.3, -0.15), (20.2, -0.18), (23.1, -0.1), (27.4, -0.02), (31.7, 0.04), (36.1, -0.02), (41.1, 0.02), (46.1, -0.03), (51.9, 0.0), (57.7, -0.02), (63.4, 0.02), (69.2, -0.02), (75.0, 0.0), (80.8, -0.03), (86.5, 0.0), (92.3, 0.04), (96.6, 0.1), (100.9, -0.02), (106.0, -0.05), (111.0, 0.0), (116.8, -0.02), (122.6, 0.02), (127.6, -0.02), (131.2, -0.1), (134.1, -0.04), (138.4, 0.02), (142.8, -0.02), (148.5, -0.03)]
CECS_NS_DATA = [(2.9, 0.0), (7.9, 0.0), (11.5, -0.05), (15.1, 0.08), (18.7, 0.02), (21.6, 0.15), (24.5, 0.28), (27.4, 0.1), (30.3, -0.1), (33.2, 0.08), (36.1, -0.12), (38.9, 0.02), (41.8, -0.15), (44.7, 0.05), (47.6, -0.02), (51.2, 0.05), (54.8, 0.02), (58.4, 0.04), (62.0, 0.0), (65.6, 0.03), (69.2, -0.02), (72.8, 0.03), (76.4, 0.0), (80.0, 0.02), (83.6, -0.02), (87.2, 0.0), (90.8, -0.05), (94.4, -0.15), (98.1, -0.02), (101.7, 0.04), (105.3, 0.02), (108.9, 0.03), (112.5, -0.02), (116.1, 0.02), (119.7, -0.02), (123.3, 0.02), (126.9, 0.0), (130.5, -0.03), (134.1, 0.02), (137.7, -0.05), (141.3, 0.01), (145.6, 0.0)]
CECS_NS_MODEL = [(2.9, -0.02), (6.5, -0.1), (9.4, -0.05), (13.0, 0.12), (16.6, 0.18), (20.2, 0.16), (23.1, 0.1), (25.9, 0.14), (29.6, 0.06), (33.2, 0.1), (37.5, 0.02), (41.8, 0.05), (47.6, 0.0), (53.4, 0.03), (59.1, 0.0), (64.9, 0.02), (70.7, 0.0), (76.4, 0.03), (82.2, -0.02), (88.0, 0.02), (93.7, -0.06), (98.1, -0.1), (102.5, 0.05), (106.8, 0.12), (111.0, 0.02), (116.8, -0.02), (122.6, 0.04), (128.3, 0.0), (132.7, 0.08), (137.0, 0.0), (141.3, -0.02), (147.1, 0.0)]
CECS_UD_DATA = [(3.6, 0.0), (9.4, 0.02), (13.7, -0.03), (18.0, 0.05), (22.4, -0.02), (26.7, 0.06), (31.0, -0.03), (35.3, 0.04), (39.7, -0.02), (44.0, 0.03), (48.3, -0.03), (52.6, 0.02), (57.0, -0.02), (61.3, 0.03), (65.6, -0.03), (69.9, 0.02), (74.3, -0.02), (80.0, 0.04), (85.8, -0.02), (91.6, 0.02), (97.3, -0.02), (103.1, 0.02), (108.9, -0.02), (114.6, 0.02), (120.4, -0.02), (126.2, 0.02), (132.0, -0.01), (137.7, 0.02), (143.5, -0.01), (147.8, 0.0)]
CECS_UD_MODEL = [(3.6, 0.0), (9.4, -0.02), (15.1, 0.03), (20.2, -0.04), (25.2, 0.04), (31.0, -0.02), (36.8, 0.03), (42.5, -0.04), (48.3, 0.02), (54.1, -0.02), (59.8, 0.02), (65.6, -0.02), (71.4, 0.03), (77.1, -0.02), (82.9, 0.02), (88.7, -0.03), (94.4, 0.01), (100.2, -0.04), (106.0, 0.02), (111.8, -0.01), (117.5, 0.02), (123.3, -0.02), (129.1, 0.0), (134.8, -0.05), (139.1, 0.02), (143.5, -0.02), (147.8, 0.0)]

ASHS_EW_DATA = [(2.9, 0.0), (15.9, 0.0), (23.1, 0.02), (30.3, -0.02), (37.5, 0.02), (44.7, -0.02), (51.9, 0.0), (59.1, 0.02), (66.3, -0.02), (73.5, 0.02), (80.8, -0.02), (88.0, 0.0), (95.2, -0.02), (102.4, 0.02), (108.1, -0.04), (113.2, 0.05), (116.8, -0.03), (121.1, -0.15), (124.0, 0.05), (126.9, 0.15), (129.8, 0.0), (132.7, 0.08), (135.6, -0.06), (138.4, 0.04), (142.0, -0.02), (145.6, 0.0), (148.5, -0.02)]
ASHS_EW_MODEL = [(2.9, 0.0), (12.3, 0.0), (17.3, 0.03), (21.6, -0.05), (24.5, -0.1), (28.1, -0.02), (33.9, 0.02), (41.1, 0.0), (48.3, -0.02), (55.5, 0.01), (62.7, -0.02), (69.9, 0.02), (77.1, 0.0), (84.4, -0.02), (91.6, 0.02), (98.8, -0.02), (106.0, 0.02), (111.0, -0.02), (115.4, 0.05), (119.7, 0.02), (124.0, -0.05), (128.4, 0.03), (132.7, -0.04), (137.0, 0.02), (141.3, -0.03), (145.6, 0.0), (148.5, -0.01)]
ASHS_NS_DATA = [(2.9, 0.0), (11.5, 0.01), (18.7, -0.02), (26.0, 0.02), (33.2, -0.01), (40.4, 0.02), (47.6, -0.02), (54.8, 0.01), (62.0, -0.02), (69.2, 0.02), (76.4, 0.0), (83.6, -0.02), (90.8, 0.02), (98.1, -0.02), (105.3, 0.02), (112.5, 0.0), (119.7, -0.02), (126.9, 0.02), (131.2, 0.06), (135.5, -0.02), (139.8, 0.03), (144.1, 0.0), (147.1, 0.01)]
ASHS_NS_MODEL = [(2.9, 0.0), (10.1, -0.01), (17.3, 0.03), (24.5, -0.02), (31.7, 0.02), (38.9, 0.0), (46.1, -0.03), (53.4, 0.01), (60.6, 0.03), (67.9, -0.02), (75.1, 0.01), (82.2, -0.02), (89.4, 0.03), (96.6, -0.02), (103.8, 0.02), (111.0, -0.01), (118.2, 0.02), (125.5, -0.02), (132.7, 0.0), (139.9, 0.02), (147.1, 0.0)]
ASHS_UD_DATA = [(3.6, 0.0), (13.0, 0.0), (20.2, 0.01), (27.4, -0.02), (34.6, 0.02), (41.8, -0.03), (46.9, 0.04), (52.6, -0.02), (59.8, 0.02), (67.1, -0.02), (74.3, 0.0), (81.5, 0.02), (88.7, -0.02), (95.9, 0.02), (103.1, -0.02), (110.3, 0.01), (117.5, -0.02), (124.7, 0.02), (131.9, -0.04), (139.1, 0.02), (146.4, 0.0)]
ASHS_UD_MODEL = [(3.6, 0.0), (16.6, 0.0), (23.8, -0.02), (31.0, 0.01), (38.2, -0.03), (45.4, 0.02), (52.6, -0.02), (59.8, 0.01), (67.1, -0.02), (74.3, 0.02), (81.5, -0.01), (88.7, 0.02), (95.9, -0.02), (103.1, 0.01), (110.3, -0.02), (117.5, 0.02), (124.7, 0.0), (131.9, 0.03), (139.1, -0.02), (147.8, 0.0)]

STATIONS = ["KIKS", "kaik", "MOLS", "HSES", "CULC", "CECS", "ASHS"]
COMPONENTS = ["E-W", "N-S", "Vertical"]
TIME_TICKS = [0, 50, 100, 150]        # labelled ticks
TIME_TICK_STEP = 10                   # unlabelled tick spacing
TIME_SPAN = [0, 150]
SCALE_BAR_M = 1.0
LEGEND_LABELS = ["data", "model", "Papatea only"]

WAVEFORMS = {
    ("KIKS", "E-W"): (KIKS_EW_DATA, KIKS_EW_MODEL, KIKS_EW_PAPATEA),
    ("KIKS", "N-S"): (KIKS_NS_DATA, KIKS_NS_MODEL, KIKS_NS_PAPATEA),
    ("KIKS", "Vertical"): (KIKS_UD_DATA, KIKS_UD_MODEL, KIKS_UD_PAPATEA),
    ("kaik", "E-W"): (KAIK_EW_DATA, KAIK_EW_MODEL, KAIK_EW_PAPATEA),
    ("kaik", "N-S"): (KAIK_NS_DATA, KAIK_NS_MODEL, KAIK_NS_PAPATEA),
    ("kaik", "Vertical"): (KAIK_UD_DATA, KAIK_UD_MODEL, KAIK_UD_PAPATEA),
    ("MOLS", "E-W"): (MOLS_EW_DATA, MOLS_EW_MODEL, MOLS_EW_PAPATEA),
    ("MOLS", "N-S"): (MOLS_NS_DATA, MOLS_NS_MODEL, MOLS_NS_PAPATEA),
    ("MOLS", "Vertical"): (MOLS_UD_DATA, MOLS_UD_MODEL, MOLS_UD_PAPATEA),
    ("HSES", "E-W"): (HSES_EW_DATA, HSES_EW_MODEL, None),
    ("HSES", "N-S"): (HSES_NS_DATA, HSES_NS_MODEL, None),
    ("HSES", "Vertical"): (HSES_UD_DATA, HSES_UD_MODEL, None),
    ("CULC", "E-W"): (CULC_EW_DATA, CULC_EW_MODEL, None),
    ("CULC", "N-S"): (CULC_NS_DATA, CULC_NS_MODEL, None),
    ("CULC", "Vertical"): (CULC_UD_DATA, CULC_UD_MODEL, None),
    ("CECS", "E-W"): (CECS_EW_DATA, CECS_EW_MODEL, None),
    ("CECS", "N-S"): (CECS_NS_DATA, CECS_NS_MODEL, None),
    ("CECS", "Vertical"): (CECS_UD_DATA, CECS_UD_MODEL, None),
    ("ASHS", "E-W"): (ASHS_EW_DATA, ASHS_EW_MODEL, None),
    ("ASHS", "N-S"): (ASHS_NS_DATA, ASHS_NS_MODEL, None),
    ("ASHS", "Vertical"): (ASHS_UD_DATA, ASHS_UD_MODEL, None),
}

# ---------------------------------------------------------------------------
# Page geometry (pixels) and styling
# ---------------------------------------------------------------------------
W, H = 1013, 1218
PX_PER_S = 208 / 150          # horizontal time scale
PX_PER_M = 72                 # vertical displacement scale (1 m bar)
X_RANGE = [-12, 163]
AXIS_PAD_S = 3.0              # room so the end ticks at 0 s and 150 s are drawn
COLUMN_T0_PX = [18, 384, 747]          # pixel position of t = 0 per column
TIME_AXIS_Y_PX = [1152, 1149, 1157]    # time-axis baseline per column
ROW_BASE_PX = {"KIKS": 143.5, "kaik": 358, "MOLS": 537, "HSES": 665,
               "CULC": 792, "CECS": 924, "ASHS": 1080}
PAPATEA_BASE_PX = {"KIKS": 213.5, "kaik": 437, "MOLS": 586}
LABEL_BASELINE_PX = {"KIKS": 125, "kaik": 313, "MOLS": 517, "HSES": 647,
                     "CULC": 774, "CECS": 906, "ASHS": 1061}
TITLE_CENTER_PX = [101, 466, 855]
SCALE_BAR_T = 92.3
SCALE_BAR_CENTER_PX = 1001

BLACK = "#231F20"
RED = "#ED1C24"
BLUE = "#2E3192"
FONT = "Liberation Sans, Arial, sans-serif"
NARROW = "DejaVu Sans Condensed, Liberation Sans Narrow, Arial Narrow, Liberation Sans, sans-serif"
LINE_W = 2.1


def unzip(pairs):
    return [p[0] for p in pairs], [p[1] for p in pairs]


def yv(base_px, amps):
    return [-base_px / PX_PER_M + a for a in amps]


tick_vals = list(range(TIME_SPAN[0], TIME_SPAN[1] + 1, TIME_TICK_STEP))
tick_text = [str(v) if v in TIME_TICKS else "" for v in tick_vals]
axis_range = [TIME_SPAN[0] - AXIS_PAD_S, TIME_SPAN[1] + AXIS_PAD_S]

fig = go.Figure()

for ci, comp in enumerate(COMPONENTS):
    xa = "x" if ci == 0 else f"x{ci + 1}"
    for st in STATIONS:
        data, model, papatea = WAVEFORMS[(st, comp)]
        for series, color in ((data, BLACK), (model, RED)):
            t, a = unzip(series)
            fig.add_trace(go.Scatter(
                x=t, y=yv(ROW_BASE_PX[st], a), xaxis=xa, yaxis="y",
                mode="lines", line=dict(color=color, width=LINE_W, shape="spline", smoothing=0.5),
                showlegend=False, hoverinfo="skip"))
        if papatea is not None:
            t, a = unzip(papatea)
            fig.add_trace(go.Scatter(
                x=t, y=yv(PAPATEA_BASE_PX[st], a), xaxis=xa, yaxis="y",
                mode="lines", line=dict(color=BLUE, width=LINE_W, shape="spline", smoothing=0.5),
                showlegend=False, hoverinfo="skip"))

    # invisible anchor so the time axis under this column gets drawn
    fig.add_trace(go.Scatter(
        x=TIME_SPAN, y=[0.5, 0.5], xaxis=f"x{ci + 4}", yaxis=f"y{ci + 2}",
        mode="lines", line=dict(width=0, color="rgba(0,0,0,0)"),
        showlegend=False, hoverinfo="skip"))

# 1 m scale bar (drawn in the E-W panel's coordinates)
yc = -SCALE_BAR_CENTER_PX / PX_PER_M
top, bot = yc + SCALE_BAR_M / 2, yc - SCALE_BAR_M / 2
cap = 5.0
fig.add_trace(go.Scatter(
    x=[SCALE_BAR_T - cap, SCALE_BAR_T + cap, None, SCALE_BAR_T, SCALE_BAR_T, None,
       SCALE_BAR_T - cap, SCALE_BAR_T + cap],
    y=[top, top, None, top, bot, None, bot, bot],
    xaxis="x", yaxis="y", mode="lines", line=dict(color=BLACK, width=2),
    showlegend=False, hoverinfo="skip"))

layout = dict(
    width=W, height=H, margin=dict(l=0, r=0, t=0, b=0, autoexpand=False),
    paper_bgcolor="white", plot_bgcolor="rgba(0,0,0,0)",
    yaxis=dict(range=[-H / PX_PER_M, 0], domain=[0, 1], visible=False, fixedrange=True),
)

shapes = []
for ci in range(3):
    x0 = COLUMN_T0_PX[ci]
    left = x0 + X_RANGE[0] * PX_PER_S
    right = x0 + X_RANGE[1] * PX_PER_S
    key = "xaxis" if ci == 0 else f"xaxis{ci + 1}"
    layout[key] = dict(range=X_RANGE, domain=[left / W, right / W], anchor="y",
                       visible=False, fixedrange=True)

    # time axis below each column
    ya_key = f"yaxis{ci + 2}"
    ax_key = f"xaxis{ci + 4}"
    yfrac = 1 - TIME_AXIS_Y_PX[ci] / H
    a_left = x0 + axis_range[0] * PX_PER_S
    a_right = x0 + axis_range[1] * PX_PER_S
    layout[ya_key] = dict(domain=[yfrac, yfrac + 0.005], range=[0, 1], visible=False,
                          fixedrange=True, anchor=f"x{ci + 4}")
    layout[ax_key] = dict(
        range=axis_range, domain=[a_left / W, a_right / W], anchor=f"y{ci + 2}",
        automargin=False,
        tickmode="array", tickvals=tick_vals, ticktext=tick_text,
        ticks="inside", ticklen=14, tickwidth=1, tickcolor=BLACK,
        ticklabelstandoff=8,
        showline=False, showgrid=False, zeroline=False,
        tickfont=dict(family=NARROW, size=21, color=BLACK),
        title=dict(text="time (s)", font=dict(family=NARROW, size=21, color=BLACK), standoff=12),
        fixedrange=True)
    # axis baseline spanning exactly 0-150 s
    shapes.append(dict(type="line", xref=f"x{ci + 4}", yref="paper",
                       x0=TIME_SPAN[0], x1=TIME_SPAN[1], y0=yfrac, y1=yfrac,
                       line=dict(color=BLACK, width=1.5)))

annotations = []
for ci, comp in enumerate(COMPONENTS):
    annotations.append(dict(
        text=f"<b>{comp}</b>", x=TITLE_CENTER_PX[ci] / W, y=1 - 23 / H,
        xref="paper", yref="paper", xanchor="center", yanchor="middle",
        showarrow=False, font=dict(family=FONT, size=28, color=BLACK)))

for st in STATIONS:
    size = 25
    yc_px = LABEL_BASELINE_PX[st] - 0.36 * size
    annotations.append(dict(
        text=st, x=9 / W, y=1 - yc_px / H, xref="paper", yref="paper",
        xanchor="left", yanchor="middle", showarrow=False,
        font=dict(family=FONT, size=size, color=BLACK)))

annotations.append(dict(
    text="1 m", x=158 / W, y=1 - 1011 / H, xref="paper", yref="paper",
    xanchor="left", yanchor="middle", showarrow=False,
    font=dict(family=FONT, size=35, color=BLACK)))

# legend key (top right)
legend_y = [67, 92, 116]
legend_colors = [BLACK, RED, BLUE]
for label, ly, col in zip(LEGEND_LABELS, legend_y, legend_colors):
    shapes.append(dict(type="line", xref="paper", yref="paper",
                       x0=833 / W, x1=877 / W, y0=1 - ly / H, y1=1 - ly / H,
                       line=dict(color=col, width=2)))
    annotations.append(dict(
        text=label, x=881 / W, y=1 - (ly - 1) / H, xref="paper", yref="paper",
        xanchor="left", yanchor="middle", showarrow=False,
        font=dict(family=FONT, size=21.5, color=col)))

layout["annotations"] = annotations
layout["shapes"] = shapes
fig.update_layout(**layout)

fig.write_html("out.html")
